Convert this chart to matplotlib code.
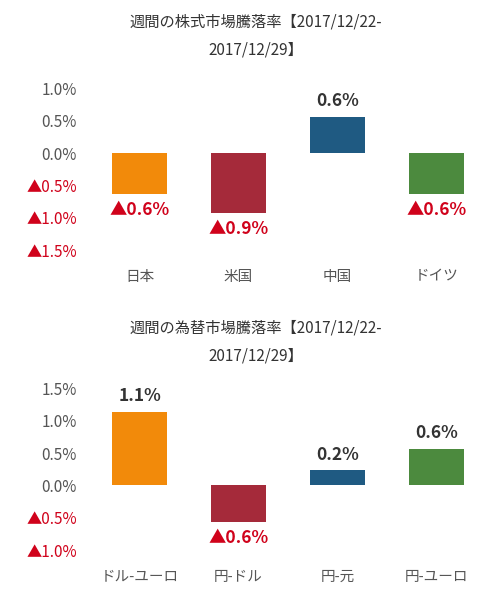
import matplotlib
matplotlib.use("Agg")
import matplotlib.pyplot as plt

plt.rcParams['font.family'] = ['Noto Sans CJK JP', 'DejaVu Sans']

stock_cats = ["日本", "米国", "中国", "ドイツ"]
stock_vals = [-0.63, -0.93, 0.55, -0.63]
stock_labels = ["▲0.6%", "▲0.9%", "0.6%", "▲0.6%"]
stock_ticks = [-1.5, -1.0, -0.5, 0.0, 0.5, 1.0]
stock_title = "週間の株式市場騰落率【2017/12/22-\n2017/12/29】"

fx_cats = ["ドル-ユーロ", "円-ドル", "円-元", "円-ユーロ"]
fx_vals = [1.13, -0.57, 0.23, 0.56]
fx_labels = ["1.1%", "▲0.6%", "0.2%", "0.6%"]
fx_ticks = [-1.0, -0.5, 0.0, 0.5, 1.0, 1.5]
fx_title = "週間の為替市場騰落率【2017/12/22-\n2017/12/29】"

colors = ["#F28A0A", "#A52A3A", "#1F5A82", "#4C8A3E"]
RED = "#D0021B"
GRAY = "#555555"

fig = plt.figure(figsize=(5.01, 6.0), dpi=100)

def panel(rect, cats, vals, labels, ticks, title, title_y):
    ax = fig.add_axes(rect)
    x = range(len(cats))
    ax.bar(x, vals, width=0.55, color=colors)
    ax.set_xlim(-0.55, 3.55)
    ax.set_ylim(ticks[0], ticks[-1])
    ax.set_yticks(ticks)
    tl = []
    for t in ticks:
        tl.append(("▲%.1f%%" % abs(t)) if t < 0 else "%.1f%%" % t)
    ax.set_yticklabels(tl, fontsize=11)
    for lab, t in zip(ax.get_yticklabels(), ticks):
        lab.set_color(RED if t < 0 else GRAY)
    ax.set_xticks(list(x))
    ax.set_xticklabels(cats, fontsize=10.5, color=GRAY)
    ax.tick_params(length=0, pad=6)
    ax.tick_params(axis='x', pad=14)
    for s in ax.spines.values():
        s.set_visible(False)
    for xi, v, lab in zip(x, vals, labels):
        if v < 0:
            ax.annotate(lab, (xi, v), xytext=(0, -5), textcoords='offset points',
                        ha='center', va='top', color=RED, fontsize=12.5, fontweight='bold')
        else:
            ax.annotate(lab, (xi, v), xytext=(0, 5), textcoords='offset points',
                        ha='center', va='bottom', color="#333333", fontsize=12.5, fontweight='bold')
    fig.text(0.51, title_y, title, ha='center', va='top', fontsize=11,
             color="#333333", linespacing=1.85)
    return ax

panel([0.17, 0.583, 0.81, 0.27], stock_cats, stock_vals, stock_labels, stock_ticks, stock_title, 0.978)
panel([0.17, 0.083, 0.81, 0.27], fx_cats, fx_vals, fx_labels, fx_ticks, fx_title, 0.468)

fig.savefig("out.png", dpi=100, facecolor="white")
